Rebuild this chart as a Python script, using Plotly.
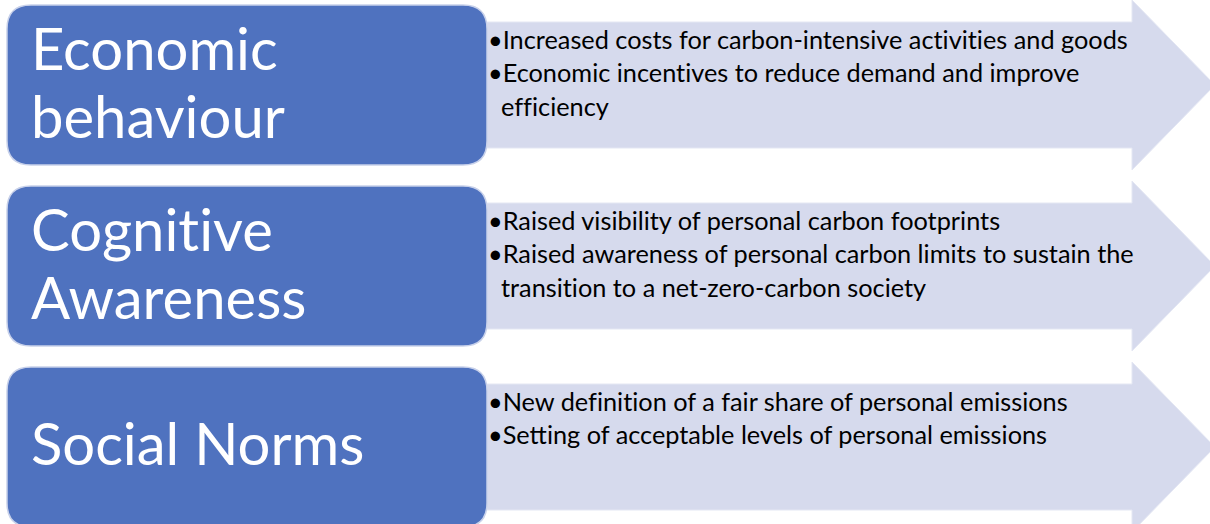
import plotly.graph_objects as go

# ---- data ----
categories = ["Economic behaviour", "Cognitive Awareness", "Social Norms"]
category_lines = [["Economic", "behaviour"], ["Cognitive", "Awareness"], ["Social Norms"]]
bullet_lines = [
    [("•", "Increased costs for carbon-intensive activities and goods"),
     ("•", "Economic incentives to reduce demand and improve"),
     ("", "efficiency")],
    [("•", "Raised visibility of personal carbon footprints"),
     ("•", "Raised awareness of personal carbon limits to sustain the"),
     ("", "transition to a net-zero-carbon society")],
    [("•", "New definition of a fair share of personal emissions"),
     ("•", "Setting of acceptable levels of personal emissions")],
]

# ---- styles / layout constants ----
W, H = 1210, 524
BOX_COLOR = "#4F72BF"
ARROW_COLOR = "#D6DAED"
FONT = "Lato, Calibri, Carlito, sans-serif"
ROW_STEP = 181
ROW_TOP0 = 5
BOX_H = 160
BOX_X0, BOX_X1 = 7, 487
R = 24
ARROW_X0, HEAD_X, TIP_X = 487, 1132, 1215
BODY_HALF, HEAD_HALF = 63, 85
TITLE_SIZE = 58
BULLET_SIZE = 25.3
ZWNJ = "\u200c"


def no_lig(s):
    # keep "t" + "i" / "fi" as separate glyphs (no ligature), as in the reference
    return (s.replace("ti", "t" + ZWNJ + "i")
             .replace("ffi", "f" + ZWNJ + "f" + ZWNJ + "i")
             .replace("fi", "f" + ZWNJ + "i"))


shapes = []
annotations = []


def rounded_rect(x0, y0, x1, y1, r):
    return (f"M {x0+r},{y0} L {x1-r},{y0} Q {x1},{y0} {x1},{y0+r} "
            f"L {x1},{y1-r} Q {x1},{y1} {x1-r},{y1} L {x0+r},{y1} "
            f"Q {x0},{y1} {x0},{y1-r} L {x0},{y0+r} Q {x0},{y0} {x0+r},{y0} Z")


for i, cat in enumerate(categories):
    top = ROW_TOP0 + i * ROW_STEP
    cy = top + BOX_H / 2
    # arrow
    arrow = (f"M {ARROW_X0},{cy-BODY_HALF} L {HEAD_X},{cy-BODY_HALF} L {HEAD_X},{cy-HEAD_HALF} "
             f"L {TIP_X},{cy} L {HEAD_X},{cy+HEAD_HALF} L {HEAD_X},{cy+BODY_HALF} "
             f"L {ARROW_X0},{cy+BODY_HALF} Z")
    shapes.append(dict(type="path", path=arrow, xref="x", yref="y",
                       fillcolor=ARROW_COLOR, line=dict(color="#E4E7F3", width=1), layer="below"))
    # box
    shapes.append(dict(type="path", path=rounded_rect(BOX_X0, top, BOX_X1, top + BOX_H, R),
                       xref="x", yref="y", fillcolor=BOX_COLOR,
                       line=dict(color="#C8D1EA", width=1.5), layer="below"))
    # title text
    lines = category_lines[i]
    if len(lines) == 1:
        baselines = [top + 96]
    else:
        baselines = [top + 63, top + 131]
    for line, bl in zip(lines, baselines):
        annotations.append(dict(x=BOX_X0 + 22, y=bl - TITLE_SIZE * 0.36, xref="x", yref="y",
                                text=no_lig(line), showarrow=False, xanchor="left", yanchor="middle",
                                font=dict(family=FONT, size=TITLE_SIZE, color="white")))
    # bullets
    for j, (b, txt) in enumerate(bullet_lines[i]):
        bl = top + 43 + j * 33.5
        annotations.append(dict(x=486 if b else 499, y=bl - BULLET_SIZE * 0.36, xref="x", yref="y",
                                text=b + no_lig(txt), showarrow=False, xanchor="left", yanchor="middle",
                                font=dict(family=FONT, size=BULLET_SIZE, color="black")))

fig = go.Figure()
fig.update_layout(
    width=W, height=H,
    margin=dict(l=0, r=0, t=0, b=0),
    paper_bgcolor="white", plot_bgcolor="white",
    xaxis=dict(range=[0, W], visible=False, fixedrange=True),
    yaxis=dict(range=[H, 0], visible=False, fixedrange=True),
    shapes=shapes, annotations=annotations, showlegend=False,
)
fig.write_html("out.html",
               config={"displayModeBar": False, "staticPlot": True},
               post_script="document.body.style.margin='0';document.body.style.overflow='hidden';")
